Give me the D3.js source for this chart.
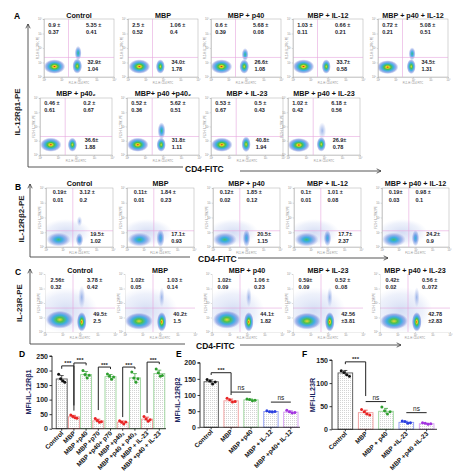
<!DOCTYPE html>
<html>
<head>
<meta charset="utf-8">
<script src="https://cdn.jsdelivr.net/npm/d3@7"></script>
<style>
  body { margin: 0; background: #fff; }
  svg { display: block; font-family: "Liberation Sans", Arial, sans-serif; }
</style>
</head>
<body>
<svg id="fig" width="461" height="473"></svg>
<script>
// ---------- flow cytometry panels: titles, quadrant stats, density clusters ----------
const titlesA1 = ['Control', 'MBP', 'MBP + p40', 'MBP + IL-12', 'MBP + p40 + IL-12'];
const statsA1 = [
  [['0.9 ±', '0.37'], ['5.35 ±', '0.41'], ['32.9±', '1.04']],
  [['2.5 ±', '0.52'], ['1.06 ±', '0.4'], ['34.0±', '1.78']],
  [['0.6 ±', '0.39'], ['5.68 ±', '0.08'], ['26.6±', '1.08']],
  [['1.03 ±', '0.11'], ['0.66 ±', '0.21'], ['33.7±', '0.58']],
  [['0.72 ±', '0.21'], ['5.08 ±', '0.51'], ['34.5±', '1.31']]
];
// clusters: [x decade, y decade, rx, ry, kind]
const clustersA1 = [
  [[0.6, 0.72, 0.62, 0.5, 'hot'], [1.9, 0.75, 0.28, 0.52, 'warm'], [1.95, 1.65, 0.2, 0.5, 'cool']],
  [[0.65, 0.72, 0.62, 0.5, 'hot'], [1.85, 0.72, 0.26, 0.5, 'warm']],
  [[0.6, 0.72, 0.62, 0.5, 'hot'], [1.9, 0.72, 0.28, 0.5, 'warm'], [1.95, 1.55, 0.2, 0.45, 'cool']],
  [[0.6, 0.72, 0.62, 0.5, 'hot'], [1.9, 0.72, 0.26, 0.5, 'warm']],
  [[0.55, 0.68, 0.62, 0.48, 'hot'], [1.9, 0.72, 0.26, 0.52, 'warm'], [1.95, 1.6, 0.2, 0.45, 'cool']]
];

const titlesA2 = ['MBP + p40₂', 'MBP+ p40 +p40₂', 'MBP + IL-23', 'MBP + p40 + IL-23'];
const statsA2 = [
  [['0.46 ±', '0.61'], ['0.2 ±', '0.67'], ['36.6±', '1.88']],
  [['0.52 ±', '0.36'], ['5.62 ±', '0.51'], ['31.8±', '1.11']],
  [['0.53 ±', '0.67'], ['0.5 ±', '0.43'], ['40.8±', '1.94']],
  [['1.02 ±', '0.42'], ['6.18 ±', '0.56'], ['26.9±', '0.78']]
];
const clustersA2 = [
  [[0.6, 0.72, 0.6, 0.5, 'hot'], [1.8, 0.72, 0.26, 0.5, 'warm']],
  [[0.6, 0.72, 0.6, 0.5, 'hot'], [1.9, 0.72, 0.26, 0.5, 'warm'], [1.92, 1.7, 0.22, 0.6, 'cool']],
  [[0.6, 0.72, 0.6, 0.5, 'hot'], [1.95, 0.75, 0.26, 0.55, 'warm']],
  [[0.6, 0.7, 0.62, 0.5, 'hot'], [1.85, 0.75, 0.26, 0.52, 'warm'], [1.9, 1.7, 0.22, 0.6, 'faint']]
];

const titlesB = ['Control', 'MBP', 'MBP + p40', 'MBP + IL-12', 'MBP + p40 + IL-12'];
const statsB = [
  [['0.19±', '0.01'], ['3.12 ±', '0.2'], ['19.5±', '1.02']],
  [['0.11±', '0.01'], ['1.84 ±', '0.23'], ['17.1±', '0.93']],
  [['0.12±', '0.02'], ['1.85 ±', '0.12'], ['20.5±', '1.15']],
  [['0.1±', '0.01'], ['1.01 ±', '0.08'], ['17.7±', '2.37']],
  [['0.19±', '0.03'], ['0.98 ±', '0.1'], ['24.2±', '0.9']]
];
const clustersB = [
  [[1.2, 1.0, 1.5, 0.9, 'haze'], [0.75, 0.5, 0.72, 0.48, 'cool'], [2.0, 0.5, 0.22, 0.45, 'cool2'], [2.0, 1.75, 0.16, 0.35, 'faint']],
  [[1.2, 1.0, 1.5, 0.9, 'haze'], [0.75, 0.5, 0.72, 0.48, 'cool'], [2.0, 0.6, 0.24, 0.6, 'cool2']],
  [[1.2, 1.0, 1.5, 0.9, 'haze'], [0.7, 0.5, 0.72, 0.48, 'cool'], [2.0, 0.6, 0.22, 0.6, 'cool2']],
  [[1.2, 1.0, 1.5, 0.9, 'haze'], [0.75, 0.5, 0.72, 0.48, 'cool'], [2.0, 0.6, 0.22, 0.55, 'cool2']],
  [[1.2, 1.0, 1.5, 0.9, 'haze'], [0.7, 0.5, 0.72, 0.48, 'cool'], [2.0, 0.6, 0.22, 0.55, 'cool2']]
];

const titlesC = ['Control', 'MBP', 'MBP + p40', 'MBP + IL-23', 'MBP + p40 + IL-23'];
const statsC = [
  [['2.56±', '0.32'], ['3.78  ±', '0.42'], ['49.5±', '2.5']],
  [['1.02±', '0.05'], ['1.03  ±', '0.14'], ['40.2±', '1.5']],
  [['1.02±', '0.09'], ['1.06  ±', '0.23'], ['44.1±', '1.82']],
  [['0.59±', '0.09'], ['0.52  ±', '0..08'], ['42.56', '±3.81']],
  [['0.42±', '0.02'], ['0.56  ±', '0..072'], ['42.78', '±2.83']]
];
const clustersC = [
  [[1.2, 1.5, 1.8, 1.6, 'haze'], [0.85, 0.85, 0.8, 0.62, 'warm'], [2.1, 0.7, 0.28, 0.68, 'hot'], [2.1, 2.4, 0.2, 0.8, 'faint']],
  [[1.2, 1.5, 1.8, 1.6, 'haze'], [0.8, 0.75, 0.8, 0.58, 'warm'], [2.1, 0.7, 0.28, 0.68, 'hot'], [2.1, 2.4, 0.16, 0.7, 'faint']],
  [[1.2, 1.5, 1.8, 1.6, 'haze'], [0.85, 0.85, 0.8, 0.62, 'warm'], [2.1, 0.7, 0.28, 0.68, 'hot'], [2.1, 2.4, 0.16, 0.7, 'faint']],
  [[1.2, 1.5, 1.8, 1.6, 'haze'], [0.8, 0.75, 0.8, 0.58, 'warm'], [2.1, 0.7, 0.28, 0.68, 'hot'], [2.1, 2.4, 0.16, 0.7, 'faint']],
  [[1.2, 1.5, 1.8, 1.6, 'haze'], [0.8, 0.75, 0.8, 0.58, 'warm'], [2.1, 0.7, 0.28, 0.68, 'hot'], [2.1, 2.4, 0.16, 0.7, 'faint']]
];

// ---------- bar charts ----------
const catsD = ['Control', 'MBP', 'MBP +p40', 'MBP +p70', 'MBP +p40+ p70', 'MBP +p40₂', 'MBP +p40 + p40₂', 'MBP + IL-23', 'MBP +p40 + IL-23'];
const meanD = [171, 41, 186, 27, 179, 22, 175, 33, 190];
const repsD = [[187, 172, 165, 160], [47, 42, 38, 36], [200, 186, 174, 184], [35, 28, 22, 24], [188, 180, 170, 178],
  [27, 22, 16, 23], [195, 174, 160, 172], [42, 33, 26, 31], [205, 192, 180, 183]];
const groupD = ['ctl', 'mbp', 'p40', 'mbp', 'p40', 'mbp', 'p40', 'mbp', 'p40'];
const ticksD = [0, 50, 100, 150, 200, 250];
const bracketsD = [[0, 1, 216, 206, 62, '***'], [1, 2, 226, 80, 218, '***'], [3, 4, 212, 64, 205, '***'],
  [5, 6, 212, 40, 205, '***'], [7, 8, 229, 54, 222, '***']];

const catsE = ['Control', 'MBP', 'MBP +p40', 'MBP + IL-12', 'MBP +p40+ IL-12'];
const meanE = [141, 82, 85, 49, 47];
const repsE = [[148, 143, 134, 140], [90, 85, 78, 80], [88, 86, 82, 84], [51, 48, 47, 49], [53, 48, 44, 46]];
const groupE = ['ctl', 'mbp', 'p40', 'il', 'p40il'];
const ticksE = [0, 50, 100, 150, 200];
const bracketsE = [[0, 1, 169, 162, 100, '***'], [1, 2, 109, 109, 109, 'ns'], [3, 4, 78, 78, 78, 'ns']];

const catsF = ['Control', 'MBP', 'MBP + p40', 'MBP +IL-23', 'MBP +p40 +IL-23'];
const meanF = [122, 36, 39, 15, 12];
const repsF = [[127, 123, 118, 115], [43, 38, 33, 31], [48, 40, 33, 38], [18, 17, 13, 14], [14, 13, 11, 12]];
const groupF = ['ctl', 'mbp', 'p40', 'il', 'p40il'];
const ticksF = [0, 50, 100, 150];
const bracketsF = [[0, 1, 146, 141, 72, '***'], [1, 2, 60, 60, 60, 'ns'], [3, 4, 36, 36, 36, 'ns']];

const groupStroke = { ctl: '#555', mbp: '#f29a9a', p40: '#98d498', il: '#8a96f2', p40il: '#d49af2' };
const groupDot = { ctl: '#111', mbp: '#e82424', p40: '#2e9e2e', il: '#2a3ee0', p40il: '#a232e0' };
const jitter = [-0.28, -0.1, 0.1, 0.28];
const sup = ['⁰', '¹', '²', '³', '⁴'];

const svg = d3.select('#fig');
const defs = svg.append('defs');

// density colour ramps
const ramps = {
  hot: [[0, '#d8261c', 1], [0.14, '#f2d41e', 1], [0.32, '#46c046', 1], [0.55, '#2aa6e2', 0.9], [0.8, '#5a78d8', 0.55], [1, '#7a90e0', 0]],
  warm: [[0, '#e8d830', 1], [0.25, '#4cc24c', 1], [0.52, '#2aa6e2', 0.9], [0.8, '#5a78d8', 0.5], [1, '#7a90e0', 0]],
  cool: [[0, '#3cc070', 1], [0.32, '#2aa6e2', 0.9], [0.68, '#5a80dc', 0.5], [1, '#7a90e0', 0]],
  cool2: [[0, '#2ab0d8', 0.95], [0.4, '#3a80e0', 0.7], [0.78, '#6a88dc', 0.35], [1, '#7a90e0', 0]],
  faint: [[0, '#5a86dc', 0.6], [0.6, '#8aa2e4', 0.3], [1, '#a0b0e8', 0]],
  haze: [[0, '#9aaee4', 0.42], [0.7, '#b0c0ec', 0.22], [1, '#c0ccf0', 0]]
};
Object.entries(ramps).forEach(([k, stops]) => {
  const gr = defs.append('radialGradient').attr('id', 'g-' + k);
  stops.forEach(([o, c, a]) => gr.append('stop').attr('offset', o).attr('stop-color', c).attr('stop-opacity', a));
});

const pat = defs.append('pattern').attr('id', 'dots').attr('width', 2).attr('height', 2)
  .attr('patternUnits', 'userSpaceOnUse');
pat.append('rect').attr('width', 2).attr('height', 2).attr('fill', '#fff');
pat.append('rect').attr('width', 1).attr('height', 1).attr('fill', '#d4d4d4');

defs.append('marker').attr('id', 'arr').attr('viewBox', '0 0 10 10').attr('refX', 9).attr('refY', 5)
  .attr('markerWidth', 6).attr('markerHeight', 6).attr('orient', 'auto')
  .append('path').attr('d', 'M1,1L9,5L1,9').attr('fill', 'none').attr('stroke', '#333').attr('stroke-width', 1.4);

// ---------- flow plot drawing ----------
function flowRow(row) {
  row.titles.forEach((title, i) => {
    const bx = row.xs[i];
    const x = d3.scaleLinear().domain([0, 4]).range([bx, bx + row.w]);
    const y = d3.scaleLinear().domain([0, 4]).range([row.top + row.h, row.top]);
    const g = svg.append('g');
    const clip = 'clip-' + row.id + i;
    defs.append('clipPath').attr('id', clip).append('rect')
      .attr('x', bx).attr('y', row.top).attr('width', row.w).attr('height', row.h);

    g.append('g').attr('clip-path', `url(#${clip})`)
      .selectAll('ellipse').data(row.clusters[i]).join('ellipse')
      .attr('cx', d => x(d[0])).attr('cy', d => y(d[1]))
      .attr('rx', d => x(d[2]) - x(0)).attr('ry', d => y(0) - y(d[3]))
      .attr('fill', d => `url(#g-${d[4]})`);

    if (row.border) {
      g.append('rect').attr('x', bx).attr('y', row.top).attr('width', row.w).attr('height', row.h)
        .attr('fill', 'none').attr('stroke', '#aaa').attr('stroke-width', 0.5);
    }
    // quadrant gates
    g.append('line').attr('x1', x(row.xGate)).attr('x2', x(row.xGate)).attr('y1', row.top).attr('y2', row.top + row.h)
      .attr('stroke', '#e6a6de').attr('stroke-width', 0.6);
    g.append('line').attr('x1', bx).attr('x2', bx + row.w).attr('y1', y(row.yGate)).attr('y2', y(row.yGate))
      .attr('stroke', '#e6a6de').attr('stroke-width', 0.6);

    // tiny axes
    const ax = g.append('g').attr('transform', `translate(0,${row.top + row.h})`)
      .call(d3.axisBottom(x).tickValues([0, 1, 2, 3, 4]).tickFormat(d => '10' + sup[d]).tickSize(1.2).tickPadding(0.8));
    const ay = g.append('g').attr('transform', `translate(${bx},0)`)
      .call(d3.axisLeft(y).tickValues([0, 1, 2, 3, 4]).tickFormat(d => '10' + sup[d]).tickSize(1.2).tickPadding(0.8));
    [ax, ay].forEach(a => {
      a.selectAll('path,line').attr('stroke', '#aaa').attr('stroke-width', 0.4);
      a.selectAll('text').attr('font-size', 2.6).attr('fill', '#888');
      if (!row.border) a.select('path').attr('stroke-opacity', 0.5);
    });
    g.append('text').attr('x', bx + row.w / 2).attr('y', row.top + row.h + 6.5).attr('text-anchor', 'middle')
      .attr('font-size', 2.6).attr('fill', '#888').text('FL1-H: CD4 FITC');
    g.append('text').attr('transform', `translate(${bx - 5.5},${row.top + row.h / 2}) rotate(-90)`)
      .attr('text-anchor', 'middle').attr('font-size', 2.6).attr('fill', '#888').text(row.yName);

    // title
    g.append('text').attr('x', bx + row.w / 2).attr('y', row.titleY).attr('text-anchor', 'middle')
      .attr('font-size', 7.2).attr('font-weight', 'bold').attr('fill', '#111').text(title);

    // quadrant statistics
    const pos = [row.ul, row.ur, row.lr];
    row.stats[i].forEach((lines, q) => {
      const p = pos[q];
      lines.forEach((t, k) => {
        g.append('text').attr('x', bx + p[0] * row.w).attr('y', row.top + p[1 + k] * row.h)
          .attr('font-size', 5.5).attr('font-weight', 'bold').attr('fill', '#1c1c2c').text(t);
      });
    });
  });
}

flowRow({ id: 'a1', titles: titlesA1, stats: statsA1, clusters: clustersA1, xs: [44, 128, 211, 293, 378],
  top: 19, w: 70, h: 58, titleY: 17.5, xGate: 1.4, yGate: 1.35, border: true, yName: 'FL2-H: IL12Rb1 PE',
  ul: [0.06, 0.13, 0.25], ur: [0.6, 0.13, 0.25], lr: [0.62, 0.77, 0.89] });
flowRow({ id: 'a2', titles: titlesA2, stats: statsA2, clusters: clustersA2, xs: [40, 127, 211, 288],
  top: 98, w: 72, h: 57, titleY: 96, xGate: 1.4, yGate: 1.3, border: true, yName: 'FL2-H: IL12Rb1 PE',
  ul: [0.06, 0.13, 0.25], ur: [0.6, 0.13, 0.25], lr: [0.62, 0.77, 0.89] });
flowRow({ id: 'b', titles: titlesB, stats: statsB, clusters: clustersB, xs: [46, 127, 213, 294, 382],
  top: 188, w: 67, h: 59, titleY: 185.5, xGate: 1.6, yGate: 1.1, border: true, yName: 'FL2-H: IL12Rb2 PE',
  ul: [0.1, 0.11, 0.23], ur: [0.5, 0.11, 0.23], lr: [0.66, 0.81, 0.93] });
flowRow({ id: 'c', titles: titlesC, stats: statsC, clusters: clustersC, xs: [45, 125, 212, 293, 380],
  top: 274, w: 70, h: 58, titleY: 272.5, xGate: 1.6, yGate: 1.65, border: false, yName: 'FL2-H: IL23R PE',
  ul: [0.08, 0.14, 0.26], ur: [0.6, 0.14, 0.26], lr: [0.69, 0.73, 0.85] });

// panel frames, arrows and shared labels
function frame(o) {
  svg.append('text').attr('x', o.lx).attr('y', o.ly).attr('font-size', 8.5).attr('font-weight', 'bold').text(o.label);
  svg.append('path').attr('d', `M${o.ax},${o.bottom}V${o.top}`).attr('stroke', '#444').attr('stroke-width', 0.9)
    .attr('fill', 'none').attr('marker-end', 'url(#arr)');
  svg.append('path').attr('d', `M${o.ax},${o.bottom}H${o.hx}`).attr('stroke', '#444').attr('stroke-width', 0.9);
  svg.append('text').attr('x', o.tx).attr('y', o.bottom + 4.5).attr('font-size', 8.5).attr('font-weight', 'bold')
    .attr('fill', '#111').text('CD4-FITC');
  svg.append('path').attr('d', `M${o.a0},${o.bottom + o.ady}H${o.a1}`).attr('stroke', '#444').attr('stroke-width', 0.9)
    .attr('marker-end', 'url(#arr)');
  svg.append('text').attr('transform', `translate(${o.yx},${o.yy}) rotate(-90)`).attr('text-anchor', 'middle')
    .attr('font-size', 8).attr('font-weight', 'bold').attr('fill', '#222').text(o.yLabel);
}
frame({ label: 'A', lx: 14, ly: 19, ax: 28, top: 24, bottom: 167, hx: 183, tx: 185, a0: 240, a1: 381, ady: 4,
  yx: 20, yy: 112, yLabel: 'IL-12Rβ1-PE' });
frame({ label: 'B', lx: 15, ly: 190, ax: 30, top: 184, bottom: 257, hx: 190, tx: 198, a0: 238, a1: 388, ady: 1,
  yx: 24, yy: 219, yLabel: 'IL-12Rβ2-PE' });
frame({ label: 'C', lx: 15, ly: 275, ax: 30, top: 269, bottom: 344, hx: 185, tx: 196, a0: 240, a1: 401, ady: 1,
  yx: 22, yy: 303, yLabel: 'IL-23R-PE' });

// ---------- bar chart drawing ----------
function barChart(o) {
  const x = d3.scaleBand().domain(o.cats).range(o.xr).paddingInner(o.pad).paddingOuter(o.padOuter);
  const y = d3.scaleLinear().domain([0, o.max]).range(o.yr);
  const g = svg.append('g');
  const bw = x.bandwidth();

  g.selectAll('rect.bar').data(o.cats).join('rect').attr('class', 'bar')
    .attr('x', d => x(d)).attr('y', (d, i) => y(o.means[i]))
    .attr('width', bw).attr('height', (d, i) => y(0) - y(o.means[i]))
    .attr('fill', 'url(#dots)').attr('stroke', (d, i) => groupStroke[o.groups[i]]).attr('stroke-width', 0.9);

  // error bars (mean ± SD of replicates)
  o.cats.forEach((c, i) => {
    const sd = d3.deviation(o.reps[i]);
    const cx = x(c) + bw / 2;
    const col = groupDot[o.groups[i]];
    g.append('path').attr('d', `M${cx},${y(o.means[i] - sd)}V${y(o.means[i] + sd)}M${cx - 2},${y(o.means[i] + sd)}h4`)
      .attr('stroke', col).attr('stroke-width', 0.7).attr('fill', 'none');
    g.selectAll(null).data(o.reps[i]).join('circle')
      .attr('cx', (d, k) => cx + jitter[k] * bw).attr('cy', d => y(d)).attr('r', 1.5).attr('fill', col);
  });

  const ya = g.append('g').attr('transform', `translate(${o.axisX},0)`)
    .call(d3.axisLeft(y).tickValues(o.ticks).tickSize(2.5).tickPadding(1.5));
  ya.select('path').attr('d', `M-2.5,${y(o.max)}H0V${y(0)}`);
  const xa = g.append('g').attr('transform', `translate(0,${y(0)})`)
    .call(d3.axisBottom(x).tickSize(2).tickFormat(''));
  xa.select('path').attr('d', `M${o.axisX},0H${o.xEnd}`);
  [xa, ya].forEach(a => a.selectAll('path,line').attr('stroke', '#222').attr('stroke-width', 0.9));
  ya.selectAll('text').attr('font-size', 7).attr('font-weight', 'bold').attr('fill', '#222')
    .attr('font-family', '"Liberation Sans", Arial, sans-serif');

  g.selectAll('text.xl').data(o.cats).join('text').attr('class', 'xl')
    .attr('transform', d => `translate(${x(d) + bw / 2 + 2},${y(0) + 5}) rotate(-45)`)
    .attr('text-anchor', 'end').attr('font-size', 6.4).attr('font-weight', 'bold').attr('fill', '#111').text(d => d);

  g.append('text').attr('transform', `translate(${o.ylx},${o.yly}) rotate(-90)`).attr('text-anchor', 'middle')
    .attr('font-size', 7.2).attr('font-weight', 'bold').attr('fill', '#1c2660').text(o.yLabel);
  g.append('text').attr('x', o.lx).attr('y', o.ly).attr('font-size', 8.5).attr('font-weight', 'bold').text(o.label);

  o.brackets.forEach(([a, b, lev, le, re, lab]) => {
    const xa0 = x(o.cats[a]) + bw / 2, xb0 = x(o.cats[b]) + bw / 2;
    g.append('path').attr('d', `M${xa0},${y(le)}V${y(lev)}H${xb0}V${y(re)}`)
      .attr('fill', 'none').attr('stroke', '#222').attr('stroke-width', 1);
    g.append('text').attr('x', (xa0 + xb0) / 2).attr('y', y(lev) - (lab === 'ns' ? 2 : 0.5))
      .attr('text-anchor', 'middle').attr('font-size', lab === 'ns' ? 6.5 : 6).attr('font-weight', lab === 'ns' ? 'normal' : 'bold')
      .attr('fill', '#222').text(lab);
  });
}

barChart({ cats: catsD, means: meanD, reps: repsD, groups: groupD, ticks: ticksD, brackets: bracketsD, max: 250,
  xr: [55, 166], pad: 0.1, padOuter: 0.1, yr: [428.7, 356], axisX: 52, xEnd: 166,
  ylx: 31, yly: 392, yLabel: 'MFI-IL-12Rβ1', label: 'D', lx: 19, ly: 357 });
barChart({ cats: catsE, means: meanE, reps: repsE, groups: groupE, ticks: ticksE, brackets: bracketsE, max: 200,
  xr: [202, 300], pad: 0.28, padOuter: 0.1, yr: [427.3, 362.7], axisX: 200, xEnd: 300,
  ylx: 180, yly: 400, yLabel: 'MFI-IL-12Rβ2', label: 'E', lx: 176, ly: 357 });
barChart({ cats: catsF, means: meanF, reps: repsF, groups: groupF, ticks: ticksF, brackets: bracketsF, max: 150,
  xr: [336, 436], pad: 0.28, padOuter: 0.1, yr: [429.3, 360], axisX: 332, xEnd: 437,
  ylx: 315, yly: 395, yLabel: 'MFI-IL23R', label: 'F', lx: 302, ly: 357 });
</script>
</body>
</html>
